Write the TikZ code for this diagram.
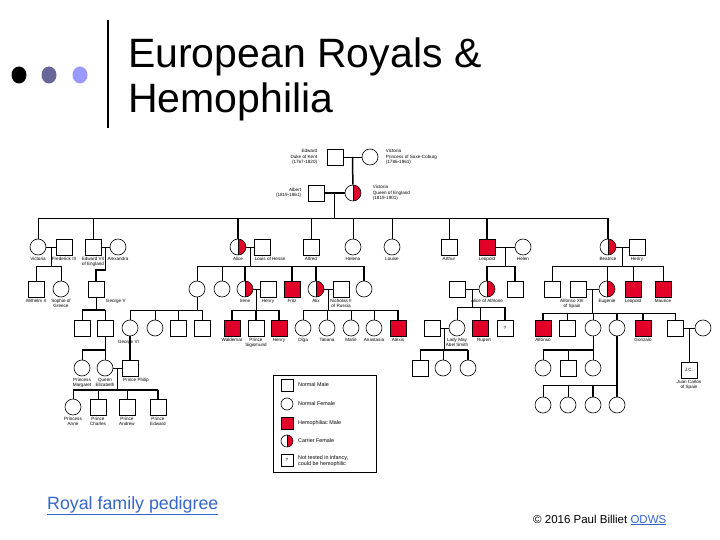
\documentclass[tikz,border=0pt]{standalone}
\usepackage{fontspec}
\setmainfont{Liberation Sans}
\usetikzlibrary{shapes.geometric}
\definecolor{hemored}{RGB}{226,0,40}
\definecolor{dotgrey}{RGB}{102,102,153}
\definecolor{dotlight}{RGB}{153,153,255}
\definecolor{linkblue}{RGB}{51,102,204}
\newcommand{\lblfont}{\fontsize{4.6}{5.2}\selectfont}
\newcommand{\keyfont}{\fontsize{5.4}{6.4}\selectfont}

\begin{document}
\begin{tikzpicture}[x=1pt, y=-1pt, label distance=1.5pt,
  male/.style={rectangle, draw, fill=white, line width=0.6pt, minimum size=16pt, inner sep=0pt, font=\lblfont},
  female/.style={circle, draw, fill=white, line width=0.6pt, minimum size=16pt, inner sep=0pt},
  hemo/.style={male, fill=hemored},
  carrier/.style={female, path picture={
      \fill[hemored] (path picture bounding box.north) rectangle (path picture bounding box.south east);
      \draw[line width=0.6pt] (path picture bounding box.north) -- (path picture bounding box.south);}},
  key/.style={minimum size=12pt},
  lbl/.style={font=\lblfont, align=center, inner sep=0.4pt},
  keylbl/.style={font=\keyfont, align=left, inner sep=0pt},
  kin/.style={line width=0.7pt},
  blood/.style={line width=1.5pt},
  dot/.style={ellipse, fill=#1, minimum width=15pt, minimum height=17pt, inner sep=0pt}
]
  \useasboundingbox (0,0) rectangle (720,540);

  \node[dot=black]    (dota) at (19,75) {};
  \node[dot=dotgrey]  (dotb) at (49,75) {};
  \node[dot=dotlight] (dotc) at (80,75) {};
  \draw[line width=2.6pt] (108,20) -- (108,128);
  \node[anchor=base west, font=\fontsize{41}{45}\selectfont, inner sep=0pt] (title)    at (128,68)  {European Royals \&};
  \node[anchor=base west, font=\fontsize{41}{45}\selectfont, inner sep=0pt] (subtitle) at (128,113) {Hemophilia};

  \node[male, label={[lbl,align=right,label distance=9pt]left:{Edward\\Duke of Kent\\(1767-1820)}}] (edward) at (335,157) {};
  \node[female, label={[lbl,align=left,label distance=7pt]right:{Victoria\\Princess of Saxe-Coburg\\(1786-1861)}}] (saxe) at (370,157) {};
  \node[male, label={[lbl,align=right,label distance=6pt]left:{Albert\\(1819-1861)}}] (albert) at (316,193) {};
  \node[carrier, label={[lbl,align=left,label distance=11pt]right:{Victoria\\Queen of England\\(1819-1901)}}] (queen) at (353,193) {};

  \node[female,  label={[lbl]below:Victoria}]                 (vicroy)   at (38,247)  {};
  \node[male,    label={[lbl]below:Frederick III}]            (frediii)  at (64,247)  {};
  \node[male,    label={[lbl]below:{Edward VII\\of England}}] (edwvii)   at (93,247)  {};
  \node[female,  label={[lbl]below:Alexandra}]                (alexandra) at (118,247) {};
  \node[carrier, label={[lbl]below:Alice}]                    (alice)    at (238,247) {};
  \node[male,    label={[lbl,xshift=8pt]below:Louis of Hesse}] (louis)   at (262,247) {};
  \node[male,    label={[lbl]below:Alfred}]                   (alfred)   at (311,247) {};
  \node[female,  label={[lbl]below:Helena}]                   (helena)   at (353,247) {};
  \node[female,  label={[lbl]below:Louise}]                   (louise)   at (392,247) {};
  \node[male,    label={[lbl]below:Arthur}]                   (arthur)   at (449,247) {};
  \node[hemo,    label={[lbl]below:Leopold}]                  (leopold)  at (487,247) {};
  \node[female,  label={[lbl]below:Helen}]                    (helen)    at (523,247) {};
  \node[carrier, label={[lbl]below:Beatrice}]                 (beatrice) at (608,247) {};
  \node[male,    label={[lbl]below:Henry}]                    (henry)    at (637,247) {};

  \node[male,    label={[lbl]below:Wilhelm II}]               (wilhelm)  at (36,289)  {};
  \node[female,  label={[lbl]below:{Sophie of\\Greece}}]      (sophie)   at (61,289)  {};
  \node[male,    label={[lbl]below right:George V}]           (georgev)  at (96,289)  {};
  \node[female]                                               (vichesse) at (197,289) {};
  \node[female]                                               (ella)     at (222,289) {};
  \node[carrier, label={[lbl]below:Irene}]                    (irene)    at (245,289) {};
  \node[male,    label={[lbl]below:Henry}]                    (henprussia) at (268,289) {};
  \node[hemo,    label={[lbl]below:Fritz}]                    (fritz)    at (292,289) {};
  \node[carrier, label={[lbl]below:Alix}]                     (alix)     at (316,289) {};
  \node[male,    label={[lbl]below:{Nicholas II\\of Russia}}] (nicholas) at (341,289) {};
  \node[female]                                               (may)      at (364,289) {};
  \node[male]                                                 (teck)     at (457,289) {};
  \node[carrier, label={[lbl]below:Alice of Athlone}]         (athlone)  at (487,289) {};
  \node[male]                                                 (charles)  at (515,289) {};
  \node[male]                                                 (alexbat)  at (552,289) {};
  \node[male,    label={[lbl,xshift=-6pt]below:{Alfonso XIII\\of Spain}}] (alfonsoxiii) at (578,289) {};
  \node[carrier, label={[lbl]below:Eugenie}]                  (eugenie)  at (607,289) {};
  \node[hemo,    label={[lbl]below:Leopold}]                  (leopbat)  at (633,289) {};
  \node[hemo,    label={[lbl]below:Maurice}]                  (maurice)  at (663,289) {};

  \node[male]                                                 (edwviii)  at (82,328)  {};
  \node[male,    label={[lbl,xshift=3pt,yshift=-2pt]below right:George VI}] (georgevi) at (105,328) {};
  \node[female]                                               (alicebat) at (130,328) {};
  \node[female]                                               (louisebat) at (155,328) {};
  \node[male]                                                 (georgebat) at (178,328) {};
  \node[male]                                                 (louisbat) at (202,328) {};
  \node[hemo,    label={[lbl]below:Waldemar}]                 (waldemar) at (232,328) {};
  \node[male,    label={[lbl]below:{Prince\\Sigismund}}]      (sigismund) at (256,328) {};
  \node[hemo,    label={[lbl]below:Henry}]                    (henryhesse) at (279,328) {};
  \node[female,  label={[lbl]below:Olga}]                     (olga)     at (303,328) {};
  \node[female,  label={[lbl]below:Tatiana}]                  (tatiana)  at (327,328) {};
  \node[female,  label={[lbl]below:Marie}]                    (marie)    at (351,328) {};
  \node[female,  label={[lbl]below:Anastasia}]                (anastasia) at (374,328) {};
  \node[hemo,    label={[lbl]below:Alexis}]                   (alexis)   at (398,328) {};
  \node[male]                                                 (abelsmith) at (432,328) {};
  \node[female,  label={[lbl]below:{Lady May\\Abel Smith}}]   (ladymay)  at (457,328) {};
  \node[hemo,    label={[lbl,xshift=4pt]below:Rupert}]        (rupert)   at (480,328) {};
  \node[male]                                                 (untested) at (505,328) {?};
  \node[hemo,    label={[lbl]below:Alfonso}]                  (alfonso)  at (543,328) {};
  \node[male]                                                 (jaime)    at (567,328) {};
  \node[female]                                               (beatriz)  at (593,328) {};
  \node[female]                                               (cristina) at (617,328) {};
  \node[hemo,    label={[lbl]below:Gonzalo}]                  (gonzalo)  at (643,328) {};
  \node[male]                                                 (juan)     at (675,328) {};
  \node[female]                                               (mercedes) at (703,328) {};

  \node[female,  label={[lbl]below:{Princess\\Margaret}}]     (margaret) at (82,368)  {};
  \node[female,  label={[lbl]below:{Queen\\Elizabeth}}]       (elizabeth) at (105,368) {};
  \node[male,    label={[lbl,xshift=6pt]below:Prince Philip}] (philip)   at (130,368) {};
  \node[male]                                                 (maysona)  at (420,368) {};
  \node[female]                                               (maydaua)  at (443,368) {};
  \node[female]                                               (maydaub)  at (468,368) {};
  \node[female]                                               (beaa)     at (543,368) {};
  \node[male]                                                 (beab)     at (568,368) {};
  \node[female]                                               (beac)     at (593,368) {};
  \node[male,    label={[lbl]below:{Juan Carlos\\of Spain}}]  (juancarlos) at (689,370) {J.C.};

  \node[female]                                               (crisa)    at (543,405) {};
  \node[female]                                               (crisb)    at (568,405) {};
  \node[female]                                               (crisc)    at (593,405) {};
  \node[female]                                               (crisd)    at (617,405) {};

  \node[female,  label={[lbl]below:{Princess\\Anne}}]         (anne)     at (73,407)  {};
  \node[male,    label={[lbl]below:{Prince\\Charles}}]        (charlesp) at (98,407)  {};
  \node[male,    label={[lbl]below:{Prince\\Andrew}}]         (andrew)   at (127,407) {};
  \node[male,    label={[lbl]below:{Prince\\Edward}}]         (edwardp)  at (158,407) {};

  \coordinate (sibA)  at (0,218);
  \coordinate (sibB)  at (0,266);
  \coordinate (sibBb) at (0,270);
  \coordinate (sibC)  at (0,310);
  \coordinate (sibCa) at (0,307);
  \coordinate (sibCb) at (0,313);
  \coordinate (sibD)  at (0,350);
  \coordinate (sibE)  at (0,385);
  \coordinate (sibF)  at (0,390);

  \draw[kin] (edward) -- (saxe) coordinate[midway] (wedI);
  \draw[blood] (wedI) -- (queen);
  \draw[blood] (albert) -- (queen) coordinate[midway] (wedII);
  \draw[kin] (wedII) -- (wedII |- sibA);
  \draw[kin] (vicroy |- sibA) -- (beatrice |- sibA);
  \foreach \k in {vicroy,edwvii,alfred,helena,louise,arthur}
    \draw[kin] (\k |- sibA) -- (\k);
  \foreach \k in {alice,leopold,beatrice}
    \draw[blood] (\k |- sibA) -- (\k);

  \draw[kin] (vicroy) -- (frediii) coordinate[midway] (wedIII);
  \draw[kin] (wedIII) -- (wedIII |- sibB);
  \draw[kin] (wilhelm |- sibB) -- (sophie |- sibB);
  \foreach \k in {wilhelm,sophie}
    \draw[kin] (\k |- sibB) -- (\k);

  \draw[kin] (edwvii) -- (alexandra) coordinate[midway] (wedIV);
  \draw[blood] (wedIV) -- (wedIV |- sibBb) -| (georgev);

  \draw[kin] (alice) -- (louis) coordinate[midway] (wedV);
  \draw[kin] (wedV) -- (wedV |- sibB);
  \draw[kin] (vichesse |- sibB) -- (may |- sibB);
  \foreach \k in {vichesse,ella}
    \draw[kin] (\k |- sibB) -- (\k);
  \foreach \k in {irene,fritz,alix,may}
    \draw[blood] (\k |- sibB) -- (\k);

  \draw[kin] (leopold) -- (helen) coordinate[midway] (wedVI);
  \draw[kin] (wedVI) -- (wedVI |- sibB);
  \draw[kin] (athlone |- sibB) -- (charles |- sibB);
  \draw[blood] (athlone |- sibB) -- (athlone);
  \draw[blood] (charles |- sibB) -- (charles);

  \draw[kin] (beatrice) -- (henry) coordinate[midway] (wedVII);
  \draw[kin] (wedVII) -- (wedVII |- sibB);
  \draw[kin] (alexbat |- sibB) -- (maurice |- sibB);
  \foreach \k in {alexbat,eugenie,leopbat,maurice}
    \draw[kin] (\k |- sibB) -- (\k);

  \draw[kin] (georgev) -- (georgev |- sibC);
  \draw[blood] (edwviii |- sibC) -- (georgevi |- sibC);
  \foreach \k in {edwviii,georgevi}
    \draw[kin] (\k |- sibC) -- (\k);

  \draw[kin] (vichesse) -- (vichesse |- sibC);
  \draw[kin] (alicebat |- sibC) -- (louisbat |- sibC);
  \foreach \k in {alicebat,louisebat,georgebat,louisbat}
    \draw[kin] (\k |- sibC) -- (\k);

  \draw[kin] (irene) -- (henprussia) coordinate[midway] (wedVIII);
  \draw[kin] (wedVIII) -- (wedVIII |- sibC);
  \draw[kin] (waldemar |- sibC) -- (henryhesse |- sibC);
  \foreach \k in {waldemar,sigismund,henryhesse}
    \draw[blood] (\k |- sibC) -- (\k);

  \draw[kin] (alix) -- (nicholas) coordinate[midway] (wedIX);
  \draw[kin] (wedIX) -- (wedIX |- sibC);
  \draw[kin] (olga |- sibC) -- (alexis |- sibC);
  \foreach \k in {olga,tatiana,marie,anastasia}
    \draw[kin] (\k |- sibC) -- (\k);
  \draw[blood] (alexis |- sibC) -- (alexis);

  \draw[kin] (teck) -- (athlone) coordinate[midway] (wedX);
  \draw[kin] (wedX) -- (wedX |- sibCa);
  \draw[kin] (ladymay |- sibCa) -- (untested |- sibCa);
  \foreach \k in {ladymay,rupert}
    \draw[kin] (\k |- sibCa) -- (\k);
  \draw[blood] (untested |- sibCa) -- (untested);

  \draw[kin] (alfonsoxiii) -- (eugenie) coordinate[midway] (wedXI);
  \draw[blood] (wedXI) -- (wedXI |- sibCb);
  \draw[kin] (alfonso |- sibCb) -- (juan |- sibCb);
  \foreach \k in {jaime,beatriz,juan}
    \draw[kin] (\k |- sibCb) -- (\k);
  \foreach \k in {alfonso,cristina,gonzalo}
    \draw[blood] (\k |- sibCb) -- (\k);

  \draw[kin] (georgevi) -- (georgevi |- sibD);
  \draw[blood] (margaret |- sibD) -- (elizabeth |- sibD);
  \foreach \k in {margaret,elizabeth}
    \draw[kin] (\k |- sibD) -- (\k);
  \draw[blood] (alicebat) -- (philip);

  \draw[kin] (abelsmith) -- (ladymay) coordinate[midway] (wedXII);
  \draw[kin] (wedXII) -- (wedXII |- sibD);
  \draw[blood] (maysona |- sibD) -- (maydaub |- sibD);
  \foreach \k in {maysona,maydaua}
    \draw[kin] (\k |- sibD) -- (\k);
  \draw[blood] (maydaub |- sibD) -- (maydaub);

  \draw[kin] (beatriz) -- (beatriz |- sibD);
  \draw[blood] (beaa |- sibD) -- (beac |- sibD);
  \foreach \k in {beaa,beab,beac}
    \draw[kin] (\k |- sibD) -- (\k);

  \draw[blood] (cristina) -- (cristina |- sibE);
  \draw[kin] (crisa |- sibE) -- (crisd |- sibE);
  \foreach \k in {crisa,crisb}
    \draw[kin] (\k |- sibE) -- (\k);
  \foreach \k in {crisc,crisd}
    \draw[blood] (\k |- sibE) -- (\k);

  \draw[kin] (juan) -- (mercedes) coordinate[midway] (wedXIII);
  \draw[kin] (wedXIII) -- (juancarlos);

  \draw[kin] (elizabeth) -- (philip) coordinate[midway] (wedXIV);
  \draw[kin] (wedXIV) -- (wedXIV |- sibF);
  \draw[blood] (anne |- sibF) -- (edwardp |- sibF);
  \foreach \k in {anne,charlesp,andrew}
    \draw[kin] (\k |- sibF) -- (\k);
  \draw[blood] (edwardp |- sibF) -- (edwardp);

  \node[draw, line width=0.7pt, minimum width=103pt, minimum height=97pt, inner sep=0pt] (legend) at (324.5,423.5) {};
  \node[male, key]                    (keymale)    at (287,385) {};
  \node[female, key]                  (keyfemale)  at (287,404) {};
  \node[hemo, key]                    (keyhemo)    at (287,423) {};
  \node[carrier, key]                 (keycarrier) at (287,441) {};
  \node[male, key]                    (keyuntested) at (287,460) {?};
  \node[keylbl, anchor=west] (keymaletxt)     at (298,385) {Normal Male};
  \node[keylbl, anchor=west] (keyfemaletxt)   at (298,404) {Normal Female};
  \node[keylbl, anchor=west] (keyhemotxt)     at (298,423) {Hemophiliac Male};
  \node[keylbl, anchor=west] (keycarriertxt)  at (298,441) {Carrier Female};
  \node[keylbl, anchor=west] (keyuntestedtxt) at (298,461) {Not tested in infancy,\\could be hemophilic};

  \node[anchor=base west, inner sep=0pt, font=\fontsize{17.8}{20}\selectfont, text=linkblue] (caption) at (47,509) {\underline{Royal family pedigree}};
  \node[anchor=base west, inner sep=0pt, font=\fontsize{11.5}{13}\selectfont] (credit) at (533,523) {© 2016 Paul Billiet \textcolor{linkblue}{\underline{ODWS}}};
\end{tikzpicture}
\end{document}
